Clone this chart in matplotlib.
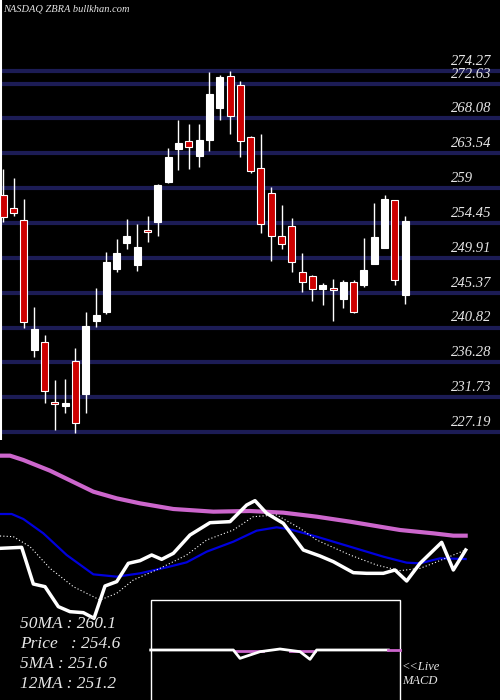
import matplotlib
matplotlib.use("Agg")
import matplotlib.pyplot as plt

# daily candles (open, high, low, close)
opens  = [258.1, 256.4, 254.9, 237.9, 238.9, 231.1, 230.6, 236.5, 232.1, 241.7,
          242.9, 248.5, 251.9, 249.0, 253.6, 254.6, 259.8, 264.1, 265.2, 263.2,
          265.3, 269.4, 273.6, 272.4, 265.6, 261.6, 258.3, 252.7, 254.0, 248.1,
          247.6, 245.9, 246.0, 244.6, 246.7, 246.3, 249.1, 251.2, 257.4, 245.0]
highs  = [261.5, 260.3, 257.6, 243.5, 239.8, 234.0, 234.1, 238.1, 242.8, 246.0,
          250.7, 252.4, 255.0, 254.3, 255.4, 259.5, 264.2, 267.9, 267.4, 267.4,
          274.1, 273.7, 274.3, 273.0, 265.8, 266.1, 259.1, 256.8, 255.1, 250.6,
          247.7, 246.6, 247.2, 247.0, 247.0, 252.5, 257.0, 258.1, 257.4, 255.4]
lows   = [254.6, 255.4, 240.8, 237.0, 231.0, 227.4, 229.7, 227.1, 229.7, 240.9,
          242.6, 248.1, 251.1, 248.2, 252.0, 252.8, 259.6, 261.3, 261.5, 261.7,
          263.9, 267.9, 266.0, 263.0, 261.0, 253.2, 249.5, 251.1, 248.1, 245.4,
          244.3, 243.7, 241.7, 243.3, 242.7, 246.1, 249.1, 251.2, 246.3, 243.9]
closes = [255.2, 255.7, 241.5, 240.6, 232.6, 230.9, 231.0, 228.4, 241.0, 242.4,
          249.4, 250.5, 252.7, 251.3, 253.3, 259.4, 263.0, 264.9, 264.4, 265.3,
          271.3, 273.5, 268.4, 265.2, 261.2, 254.3, 252.7, 251.7, 249.3, 246.7,
          245.9, 246.3, 245.7, 246.7, 242.8, 248.3, 252.6, 257.6, 247.0, 254.7]

levels = [274.27, 272.63, 268.08, 263.54, 259, 254.45, 249.91, 245.37,
          240.82, 236.28, 231.73, 227.19]

# moving average panel, in panel units (x, y down)
ma50_x = [0, 30, 70, 150, 280, 350, 420, 520, 640, 750, 850, 950, 1050, 1200, 1300, 1360, 1397]
ma50_y = [47, 47, 60, 92, 155, 175, 190, 207, 215, 213, 218, 230, 245, 270, 280, 287, 287]
ma12_x = [0, 35, 70, 130, 200, 280, 350, 420, 500, 560, 620, 700, 770, 830, 870, 950, 1050,
          1150, 1220, 1260, 1320, 1397]
ma12_y = [222, 222, 237, 280, 345, 403, 410, 400, 382, 367, 335, 305, 272, 262, 268, 290, 320,
          350, 368, 370, 355, 357]
ma5_x = [0, 40, 90, 150, 220, 300, 350, 400, 480, 560, 620, 700, 760, 830, 900, 950, 1050,
         1130, 1200, 1260, 1300, 1360, 1397]
ma5_y = [288, 290, 320, 385, 440, 480, 460, 420, 385, 345, 300, 270, 230, 225, 265, 300, 345,
         375, 392, 385, 370, 345, 330]
px_x = [0, 65, 100, 135, 175, 210, 250, 282, 315, 350, 385, 420, 455, 485, 520, 570, 630, 690,
        740, 765, 800, 850, 910, 960, 1000, 1060, 1100, 1150, 1185, 1220, 1260, 1325, 1360, 1397]
px_y = [325, 322, 432, 440, 500, 515, 518, 535, 438, 425, 370, 362, 345, 358, 340, 285, 248, 245,
        195, 182, 220, 250, 330, 348, 365, 398, 400, 400, 390, 423, 370, 307, 390, 330]
macd_x = [452, 700, 720, 780, 840, 900, 930, 950, 1165]
macd_y = [630, 630, 655, 635, 627, 635, 658, 630, 630]

txt = "#e6e6e6"
font = dict(family="Liberation Serif", style="italic", color=txt)

fig = plt.figure(figsize=(5, 7), dpi=100, facecolor="black")

ax = fig.add_axes([0, 1 - 440 / 700, 1, 440 / 700], facecolor="black")
ax.set_xlim(-0.32, 48.2)
ax.set_ylim(226.15, 283.53)
ax.axis("off")
for lv in levels:
    ax.axhline(lv, color="#1c1c55", lw=3, zorder=1)
    ax.text(43.4, lv + 0.4, f"{lv:g}", fontsize=10.5, va="bottom", ha="left", **font)
ax.axvline(-0.25, color="white", lw=1.5)
for i, (o, h, l, c) in enumerate(zip(opens, highs, lows, closes)):
    ax.vlines(i, l, h, color="white", lw=1, zorder=2)
    fc = "white" if c >= o else "#cc0000"
    lo, hi = min(o, c), max(o, c)
    ax.add_patch(plt.Rectangle((i - 0.34, lo), 0.68, max(hi - lo, 0.15),
                               facecolor=fc, edgecolor="white", lw=0.8, zorder=3))
fig.text(0.006, 0.993, "NASDAQ ZBRA bullkhan.com", fontsize=7.5, va="top", **font)

bx = fig.add_axes([0, 0, 1, 260 / 700], facecolor="black")
bx.set_xlim(0, 1500)
bx.set_ylim(780, 0)
bx.axis("off")
bx.plot(ma50_x, ma50_y, color="#cc66cc", lw=3)
bx.plot(ma12_x, ma12_y, color="#0000dd", lw=1.6)
bx.plot(ma5_x, ma5_y, color="white", lw=0.8, ls=(0, (1, 2)))
bx.plot(px_x, px_y, color="white", lw=2.5)

bx.add_patch(plt.Rectangle((452, 481), 748, 320, facecolor="black", edgecolor="white", lw=1, zorder=4))
bx.plot(macd_x, macd_y, color="white", lw=2, zorder=5)
bx.plot([1165, 1200], [630, 630], color="#cc66cc", lw=2, zorder=5)
bx.plot([705, 790], [632, 632], color="#cc66cc", lw=2, zorder=4.5)
bx.plot([870, 945], [632, 632], color="#cc66cc", lw=2, zorder=4.5)
bx.text(1205, 680, "<<Live", fontsize=9, va="center", **font)
bx.text(1205, 722, "MACD", fontsize=9, va="center", **font)

for k, s in enumerate(["50MA : 260.1", "Price   : 254.6", "5MA : 251.6", "12MA : 251.2"]):
    bx.text(60, 553 + 60 * k, s, fontsize=12.5, va="center", **font)

fig.savefig("out.png", dpi=100, facecolor="black")
